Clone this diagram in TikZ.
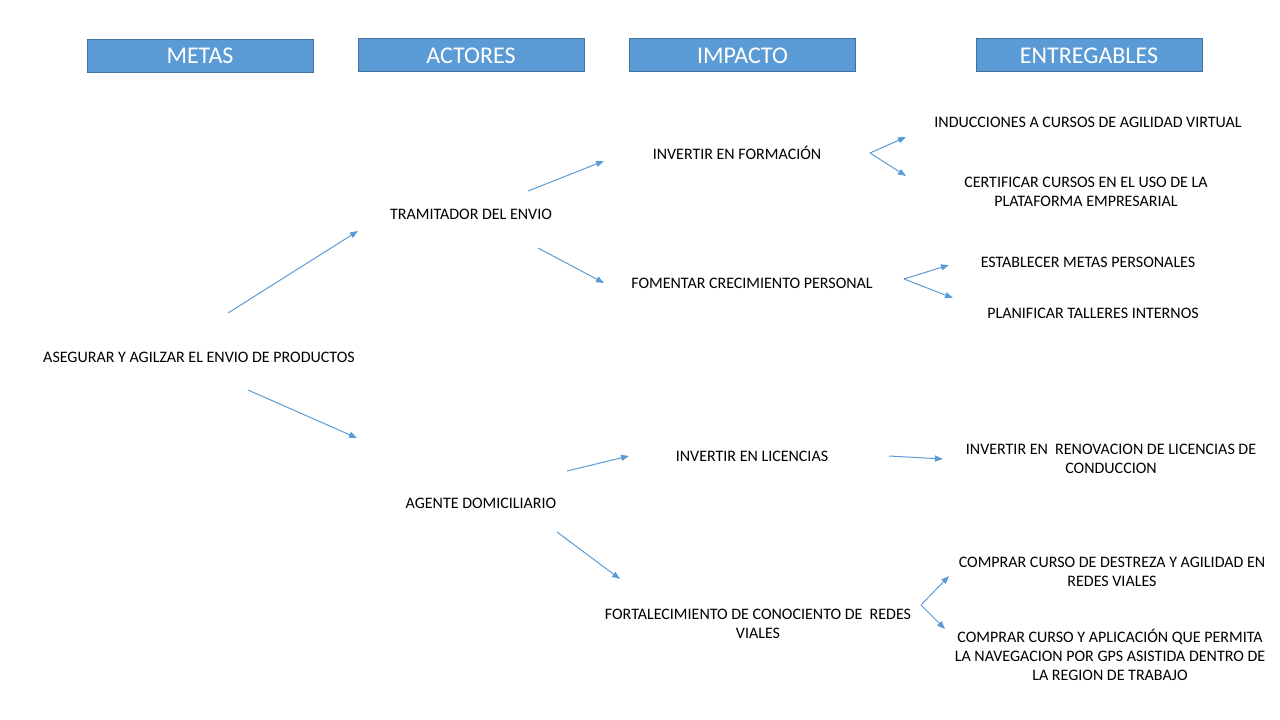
\documentclass[tikz,border=0pt]{standalone}
\usepackage{fontspec}
\setmainfont{Carlito}
\usetikzlibrary{arrows.meta}
\definecolor{hdrfill}{HTML}{5B9BD5}
\definecolor{hdrline}{HTML}{41719C}
\definecolor{arr}{HTML}{5B9BD5}
\tikzset{
  hdr/.style={draw=hdrline, line width=0.75pt, fill=hdrfill, text=white,
    minimum width=169.5pt, minimum height=24.75pt, inner sep=0pt,
    font=\fontsize{18}{21.6}\selectfont},
  lbl/.style={align=center, inner sep=0pt, font=\fontsize{12}{14.3}\selectfont},
  conn/.style={draw=arr, line width=0.75pt, -{Triangle[length=6pt,width=4.5pt]}}
}
\begin{document}
\begin{tikzpicture}[x=0.75pt,y=-0.75pt]
\useasboundingbox (0,0) rectangle (1280,720);
% headers
\node[hdr] (hmetas) at (200,56) {METAS};
\node[hdr] (hactores) at (471,55.5) {ACTORES};
\node[hdr] (himpacto) at (742.5,55.5) {IMPACTO};
\node[hdr] (hentreg) at (1089,55.5) {ENTREGABLES};
% labels
\node[lbl] (meta) at (199,357) {ASEGURAR Y AGILZAR EL ENVIO DE PRODUCTOS};
\node[lbl] (tram) at (471,214) {TRAMITADOR DEL ENVIO};
\node[lbl] (agente) at (481,503) {AGENTE DOMICILIARIO};
\node[lbl] (formacion) at (737,153) {INVERTIR EN FORMACIÓN};
\node[lbl] (fomentar) at (752,283) {FOMENTAR CRECIMIENTO PERSONAL};
\node[lbl] (licencias) at (752,456) {INVERTIR EN LICENCIAS};
\node[lbl] (fortalec) at (758,623.5) {FORTALECIMIENTO DE CONOCIENTO DE\ \ REDES\\VIALES};
\node[lbl] (induc) at (1088,122) {INDUCCIONES A CURSOS DE AGILIDAD VIRTUAL};
\node[lbl] (certif) at (1086,191.5) {CERTIFICAR CURSOS EN EL USO DE LA\\PLATAFORMA EMPRESARIAL};
\node[lbl] (establ) at (1088,262) {ESTABLECER METAS PERSONALES};
\node[lbl] (planif) at (1093,313) {PLANIFICAR TALLERES INTERNOS};
\node[lbl] (renov) at (1111,458.5) {INVERTIR EN\ \ RENOVACION DE LICENCIAS DE\\CONDUCCION};
\node[lbl] (destreza) at (1112,571.5) {COMPRAR CURSO DE DESTREZA Y AGILIDAD EN\\REDES VIALES};
\node[lbl] (gps) at (1110,655) {COMPRAR CURSO Y APLICACIÓN QUE PERMITA\\LA NAVEGACION POR GPS ASISTIDA DENTRO DE\\LA REGION DE TRABAJO};
% connector end points
\coordinate (a1s) at (228,313); \coordinate (a1e) at (358,231);
\coordinate (a2s) at (248,390); \coordinate (a2e) at (357,438);
\coordinate (a3s) at (528,191); \coordinate (a3e) at (604,161);
\coordinate (a4s) at (538,248); \coordinate (a4e) at (604,283);
\coordinate (a5s) at (567,471); \coordinate (a5e) at (629,456);
\coordinate (a6s) at (557,532); \coordinate (a6e) at (620,579);
\coordinate (b1) at (870,153); \coordinate (b1a) at (906,137); \coordinate (b1b) at (906,176);
\coordinate (b2) at (904,279); \coordinate (b2a) at (949,265); \coordinate (b2b) at (953,298);
\coordinate (b3s) at (889,456); \coordinate (b3e) at (943,459);
\coordinate (b4) at (921,605); \coordinate (b4a) at (949,576); \coordinate (b4b) at (945,629);
% connectors
\draw[conn] (a1s) -- (a1e);
\draw[conn] (a2s) -- (a2e);
\draw[conn] (a3s) -- (a3e);
\draw[conn] (a4s) -- (a4e);
\draw[conn] (a5s) -- (a5e);
\draw[conn] (a6s) -- (a6e);
\draw[conn] (b1) -- (b1a);
\draw[conn] (b1) -- (b1b);
\draw[conn] (b2) -- (b2a);
\draw[conn] (b2) -- (b2b);
\draw[conn] (b3s) -- (b3e);
\draw[conn] (b4) -- (b4a);
\draw[conn] (b4) -- (b4b);
\end{tikzpicture}
\end{document}
